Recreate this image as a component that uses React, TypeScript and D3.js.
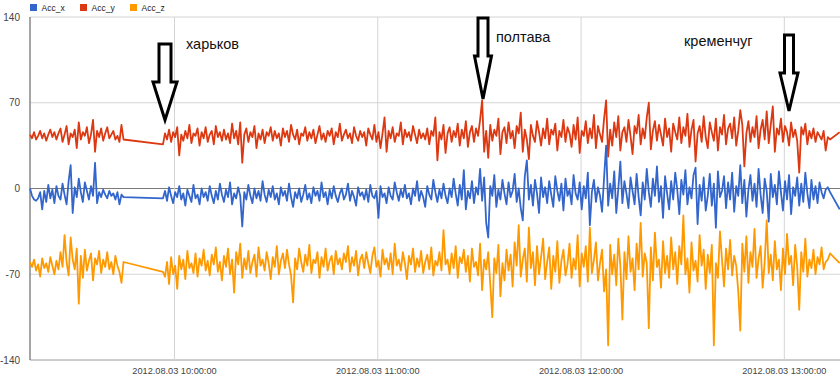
import React from "react";
import * as d3 from "d3";

// ---------- data ----------
const seriesNames = ["Acc_x", "Acc_y", "Acc_z"];
const seriesColors = ["#3366cc", "#dc3912", "#ff9900"];
const yTickValues = [140, 70, 0, -70, -140];
const xTickLabels = [
  "2012-08-03 10:00:00",
  "2012-08-03 11:00:00",
  "2012-08-03 12:00:00",
  "2012-08-03 13:00:00",
];
const domainStart = "2012-08-03 09:17:21";
const domainEnd = "2012-08-03 13:16:26";
const segment1Start = "2012-08-03 09:17:21";
const segment2Start = "2012-08-03 09:56:36";
const sampleSeconds = 36;
const tailTimes = ["2012-08-03 13:12:50", "2012-08-03 13:13:30", "2012-08-03 13:16:20"];

const accX1 = [0, -6, -9, -10, -8, -3, -17, -2, -11, 3, -8, -1, -12, 2, -6, -9, 4, -5, -13, 6, 19, -20, 1, -7, 8, -3, -11, 5, -2, -9, 2, -6, 21, -12, -3, -7, -1, -5, -8, -2, -6, -4, -9, -3, -13, -5, -7];
const accY1 = [44, 41, 46, 40, 43, 47, 41, 45, 39, 44, 48, 42, 46, 40, 45, 49, 38, 44, 51, 36, 45, 42, 48, 33, 54, 40, 46, 43, 50, 37, 44, 56, 30, 47, 42, 49, 39, 45, 50, 41, 44, 47, 40, 43, 38, 52, 40];
const accZ1 = [-60, -64, -58, -67, -62, -72, -57, -65, -61, -68, -56, -63, -70, -59, -66, -52, -64, -38, -60, -71, -40, -58, -66, -49, -94, -55, -73, -50, -67, -59, -53, -75, -57, -62, -51, -69, -58, -64, -52, -66, -60, -70, -55, -63, -68, -77, -60];

const accX2 = [
  -8, -2, -10, 1, -6, -12, -3, -7, 2, -9,
  -4, -14, -1, -6, -11, 3, -8, -5, -13, 0,
  -7, -3, -10, 2, -6, -12, -2, -9, 4, -5,
  -11, -1, -7, 5, -13, -4, -8, 1, -6, -31,
  -3, -9, 3, -6, -12, 0, -8, -2, -10, 6,
  -5, -11, -1, -7, 2, -9, -4, -13, 1, -6,
  -2, -10, 4, -7, -15, -3, -8, 0, -11, -5,
  3, -9, -4, -12, 1, -6, -2, -10, 5, -7,
  -3, -13, -1, -8, 2, -6, -11, -4, 0, -9,
  -5, 4, -10, -2, -7, -14, 1, -6, -3, -9,
  -1, -11, 3, -6, -8, -2, -24, 2, -7, -4,
  -12, 1, -6, -9, 5, -3, -10, -1, -7, 3,
  -8, -4, -13, 0, -6, 6, -10, -2, -7, -15,
  2, -5, -9, 7, -3, -11, -1, -8, 4, -6,
  -12, 0, -7, 8, -4, -14, 3, -9, 15, -17,
  -2, -8, 6, -12, 1, -5, 16, -10, 9, -28,
  -40, 2, -6, 11, -15, -1, -9, 7, -4, -13,
  5, -7, -2, 12, -11, 0, -16, -26, 10, 23,
  -9, 3, -14, 7, -4, -20, 9, -7, 1, -12,
  6, -5, -15, 10, -2, -10, 4, -18, 8, -6,
  -1, -13, 11, -4, -9, 5, -17, 2, -8, 13,
  -30, -3, 7, -11, 1, -6, -19, 9, 35, -14,
  4, -8, 14, -20, 0, 22, -12, 6, -4, -16,
  9, -2, -13, 12, -7, -22, 5, -9, 16, -3,
  -15, 8, -6, 18, -11, 2, -24, 10, -4, -17,
  6, -9, 13, -1, -21, 7, -5, 15, -13, 1,
  -8, 11, 17, -29, 3, -10, 9, -18, -6, 12,
  -14, 4, -32, 14, -7, -2, 10, -16, 5, -9,
  13, -19, 2, -6, 19, -12, 7, -23, -1, 11,
  -10, 4, -15, 16, -5, -20, 8, -2, -27, 12,
  -7, 3, -13, 14, -3, -18, 6, -9, 11, -21,
  1, -6, 9, -14, 4, -11, 13, -4, -16, 7,
  -9, 2, -12, 5, -3, -8, -1,
];
const accY2 = [
  36, 45, 40, 48, 38, 46, 42, 50, 27, 44,
  39, 47, 41, 52, 37, 45, 43, 49, 35, 46,
  41, 50, 38, 44, 47, 36, 51, 42, 46, 39,
  48, 40, 45, 37, 53, 41, 47, 36, 54, 21,
  44, 49, 38, 46, 42, 51, 33, 45, 40, 48,
  37, 46, 43, 50, 39, 47, 41, 45, 35, 49,
  42, 47, 38, 52, 44, 40, 48, 36, 45, 43,
  50, 39, 46, 41, 48, 37, 44, 51, 40, 45,
  38, 47, 43, 49, 36, 46, 42, 53, 39, 44,
  48, 41, 45, 37, 50, 43, 39, 47, 42, 46,
  35, 49, 44, 40, 52, 38, 46, 33, 45, 58,
  30, 47, 41, 50, 38, 45, 43, 54, 36, 48,
  42, 46, 39, 51, 44, 37, 48, 41, 45, 40,
  49, 36, 47, 43, 58, 23, 46, 40, 52, 29,
  45, 50, 38, 47, 42, 53, 35, 48, 41, 55,
  34, 46, 51, 38, 49, 43, 56, 72, 30, 47,
  25, 52, 39, 48, 43, 57, 28, 46, 50, 37,
  54, 41, 47, 33, 51, 45, 62, 30, 48, 40,
  24, 52, 43, 38, 55, 46, 35, 49, 41, 57,
  36, 48, 44, 53, 31, 47, 42, 56, 38, 50,
  45, 34, 52, 40, 58, 29, 47, 43, 55, 37,
  49, 41, 60, 33, 51, 44, 38, 57, 72, 26,
  48, 35, 54, 42, 59, 31, 46, 50, 38, 56,
  43, 28, 51, 45, 60, 36, 49, 41, 58, 70,
  32, 47, 55, 39, 52, 44, 35, 57, 42, 49,
  30, 53, 46, 40, 58, 37, 50, 43, 61, 34,
  48, 56, 22, 45, 51, 38, 59, 42, 33, 54,
  46, 39, 57, 31, 50, 44, 60, 36, 49, 53,
  41, 58, 35, 47, 64, 52, 18, 45, 55, 38,
  50, 42, 59, 33, 48, 56, 40, 63, 37, 52,
  67, 30, 49, 44, 57, 38, 51, 46, 35, 54,
  42, 48, 39, 13, 50, 44, 53, 36, 47, 41,
  49, 38, 46, 43, 40, 47, 31,
];
const accZ2 = [
  -68, -72, -60, -78, -56, -70, -63, -82, -55, -66,
  -58, -74, -51, -65, -61, -69, -53, -72, -57, -63,
  -50, -67, -59, -71, -54, -62, -48, -68, -60, -75,
  -55, -64, -49, -70, -58, -85, -52, -62, -45, -73,
  -57, -66, -51, -69, -60, -54, -72, -48, -63, -58,
  -67, -52, -61, -74, -56, -64, -47, -70, -59, -53,
  -65, -50, -62, -71, -93, -57, -66, -49, -60, -68,
  -54, -63, -46, -69, -58, -61, -52, -73, -56, -64,
  -49, -67, -59, -55, -70, -51, -62, -57, -66, -53,
  -60, -47, -68, -56, -63, -51, -71, -58, -54, -65,
  -52, -61, -69, -55, -48, -64, -59, -72, -50, -62,
  -57, -66, -53, -70, -45, -63, -58, -67, -52, -61,
  -74, -55, -62, -49, -68, -57, -64, -51, -69, -60,
  -54, -66, -48, -71, -59, -63, -52, -67, -34, -62,
  -58, -70, -53, -65, -47, -73, -56, -61, -50, -68,
  -55, -76, -49, -64, -60, -71, -45, -83, -58, -66,
  -52, -78, -105, -57, -69, -46, -88, -61, -75, -50,
  -67, -54, -80, -44, -63, -30, -72, -58, -49, -76,
  -32, -65, -52, -79, -47, -70, -56, -41, -74, -60,
  -48, -82, -55, -68, -43, -77, -59, -50, -71, -62,
  -45, -73, -57, -66, -38, -80, -53, -64, -47, -76,
  -32, -69, -58, -44, -75, -61, -50, -84, -66, -128,
  -46, -70, -54, -79, -41, -63, -107, -52, -74, -39,
  -68, -57, -83, -45, -66, -28, -72, -53, -61, -114,
  -48, -75, -36, -64, -58, -81, -43, -69, -55, -73,
  -40, -66, -52, -78, -47, -62, -22, -70, -57, -85,
  -44, -67, -59, -76, -38, -63, -50, -82, -54, -69,
  -46, -128, -61, -73, -35, -58, -80, -49, -66, -42,
  -71, -55, -63, -84, -116, -45, -68, -39, -77, -52,
  -64, -33, -73, -57, -47, -81, -60, -26, -69, -54,
  -75, -43, -66, -58, -83, -49, -70, -37, -62, -55,
  -79, -46, -64, -99, -52, -68, -41, -72, -58, -65,
  -50, -70, -56, -62, -48, -66, -60,
];
const accXTail = [1, -3, -17];
const accYTail = [42, 40, 46];
const accZTail = [-58, -53, -61];

// ---------- layout / annotations ----------
const W = 840;
const H = 380;
const margin = { left: 30, right: 0, top: 17, bottom: 20 };
const annotations = [
  { label: "харьков", cx: 165, top: 44, shaftHalf: 6, headY: 82, headHalf: 12, tip: 120, tx: 186, ty: 48.5 },
  { label: "полтава", cx: 483, top: 18, shaftHalf: 5, headY: 56, headHalf: 8.5, tip: 99, tx: 496, ty: 41.5 },
  { label: "кременчуг", cx: 789, top: 35, shaftHalf: 4.5, headY: 73, headHalf: 9, tip: 111, tx: 684, ty: 46 },
];

const parse = d3.timeParse("%Y-%m-%d %H:%M:%S");
const fmt = d3.timeFormat("%Y.%m.%d %H:%M:%S");

function buildSeries(seg1: number[], seg2: number[], tail: number[]) {
  const s1 = parse(segment1Start)!.getTime();
  const s2 = parse(segment2Start)!.getTime();
  const pts: [Date, number][] = [];
  seg1.forEach((v, i) => pts.push([new Date(s1 + i * sampleSeconds * 1000), v]));
  seg2.forEach((v, i) => pts.push([new Date(s2 + i * sampleSeconds * 1000), v]));
  tail.forEach((v, i) => pts.push([parse(tailTimes[i])!, v]));
  return pts;
}

export default function App() {
  const x = d3
    .scaleTime()
    .domain([parse(domainStart)!, parse(domainEnd)!])
    .range([margin.left, W - margin.right]);
  const y = d3.scaleLinear().domain([-140, 140]).range([H - margin.bottom, margin.top]);

  const series = [
    buildSeries(accX1, accX2, accXTail),
    buildSeries(accY1, accY2, accYTail),
    buildSeries(accZ1, accZ2, accZTail),
  ];
  const line = d3
    .line<[Date, number]>()
    .x((d) => x(d[0]))
    .y((d) => y(d[1]));

  const xTicks = xTickLabels.map((s) => parse(s)!);
  const font = "Arial, 'Liberation Sans', sans-serif";

  return (
    <svg
      width={W}
      height={H}
      style={{ position: "absolute", left: 0, top: 0, background: "#fff" }}
      fontFamily={font}
    >
      <rect x={0} y={0} width={W} height={H} fill="#fff" />
      {yTickValues.map((v) => (
        <line
          key={"h" + v}
          x1={margin.left}
          x2={W}
          y1={y(v)}
          y2={y(v)}
          stroke={v === 0 ? "#7a7a7a" : v === -140 ? "#9a9a9a" : "#d4d4d4"}
          strokeWidth={1}
        />
      ))}
      {xTicks.map((t, i) => (
        <line
          key={"v" + i}
          x1={x(t)}
          x2={x(t)}
          y1={margin.top}
          y2={H - margin.bottom}
          stroke="#d4d4d4"
          strokeWidth={1}
        />
      ))}
      <line x1={margin.left} x2={margin.left} y1={margin.top} y2={H - margin.bottom} stroke="#6a6a6a" strokeWidth={1.2} />
      {yTickValues.map((v) => (
        <text key={"yl" + v} x={20} y={y(v)} dy="0.35em" textAnchor="end" fontSize={10} fill="#444">
          {v}
        </text>
      ))}
      {xTicks.map((t, i) => (
        <text key={"xl" + i} x={x(t)} y={374} textAnchor="middle" fontSize={9.2} fill="#444">
          {fmt(t)}
        </text>
      ))}
      {series.map((pts, i) => (
        <path
          key={"s" + i}
          d={line(pts) || ""}
          fill="none"
          stroke={seriesColors[i]}
          strokeWidth={1.8}
          strokeLinejoin="round"
        />
      ))}
      {seriesNames.map((n, i) => (
        <g key={"lg" + i} transform={`translate(${30 + i * 50},0)`}>
          <rect x={0} y={4} width={7} height={7} fill={seriesColors[i]} />
          <text x={11.5} y={10.5} fontSize={8.5} fill="#222">
            {n}
          </text>
        </g>
      ))}
      {annotations.map((a, i) => {
        const d = `M${a.cx - a.shaftHalf},${a.top} L${a.cx + a.shaftHalf},${a.top} L${a.cx + a.shaftHalf},${a.headY} L${a.cx + a.headHalf},${a.headY} L${a.cx},${a.tip} L${a.cx - a.headHalf},${a.headY} L${a.cx - a.shaftHalf},${a.headY} Z`;
        return (
          <g key={"an" + i}>
            <path d={d} fill="#fff" stroke="#000" strokeWidth={3} strokeLinejoin="miter" />
            <text x={a.tx} y={a.ty} fontSize={14.5} fill="#111">
              {a.label}
            </text>
          </g>
        );
      })}
    </svg>
  );
}
